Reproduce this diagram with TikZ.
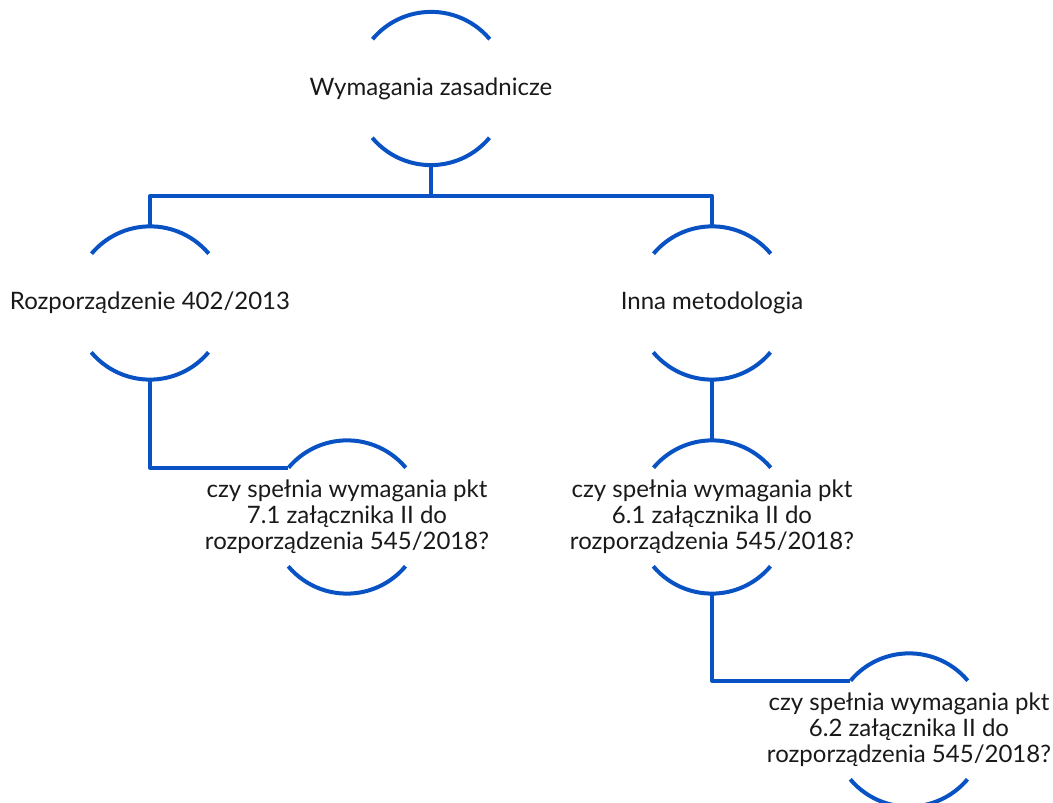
\documentclass[tikz,border=0pt]{standalone}
\usepackage{fontspec}
\setmainfont{Lato}
\usetikzlibrary{positioning}
\definecolor{ringblue}{RGB}{8,82,196}
\definecolor{txtgray}{RGB}{25,25,25}
\tikzset{
  ring/.style={circle, minimum size=153pt, inner sep=0pt},
  arcline/.style={draw=ringblue, line width=4pt},
  txt/.style={align=center, text=txtgray, font=\fontsize{24}{26}\selectfont, inner sep=0pt},
  link/.style={draw=ringblue, line width=4pt, line join=round}
}
\begin{document}
\begin{tikzpicture}[x=1pt, y=1pt]
    \useasboundingbox (0,0) rectangle (1053,803);
    \node[ring] (wz) at (431,714.5) {};
    \node[ring] (rz) at (150,500) {};
    \node[ring] (im) at (712,500) {};
    \node[ring] (q71) at (347,286) {};
    \node[ring] (q61) at (712,286) {};
    \node[ring] (q62) at (909,73) {};
    \foreach \n in {wz,rz,im,q71,q61,q62} {
      \draw[arcline] (\n.40) arc[start angle=40, end angle=140, radius=76.5pt];
      \draw[arcline] (\n.220) arc[start angle=220, end angle=320, radius=76.5pt];
    }
    \node[txt] (wz-t) at (wz) {Wymagania zasadnicze};
    \node[txt] (rz-t) at (rz) {Rozporządzenie 402/2013};
    \node[txt] (im-t) at (im) {Inna metodologia};
    \node[txt] (q71-t) at (q71) {czy spełnia wymagania pkt\\7.1 załącznika II do\\rozporządzenia 545/2018?};
    \node[txt] (q61-t) at (q61) {czy spełnia wymagania pkt\\6.1 załącznika II do\\rozporządzenia 545/2018?};
    \node[txt] (q62-t) at (q62) {czy spełnia wymagania pkt\\6.2 załącznika II do\\rozporządzenia 545/2018?};
    \coordinate (split) at ([yshift=-31pt]wz.south);
    \draw[link] (wz.south) -- (split) -| (rz.north);
    \draw[link] (split) -| (im.north);
    \draw[link] (rz.south) |- (q71.140);
    \draw[link] (im.south) -- (q61.north);
    \draw[link] (q61.south) |- (q62.140);
\end{tikzpicture}
\end{document}
